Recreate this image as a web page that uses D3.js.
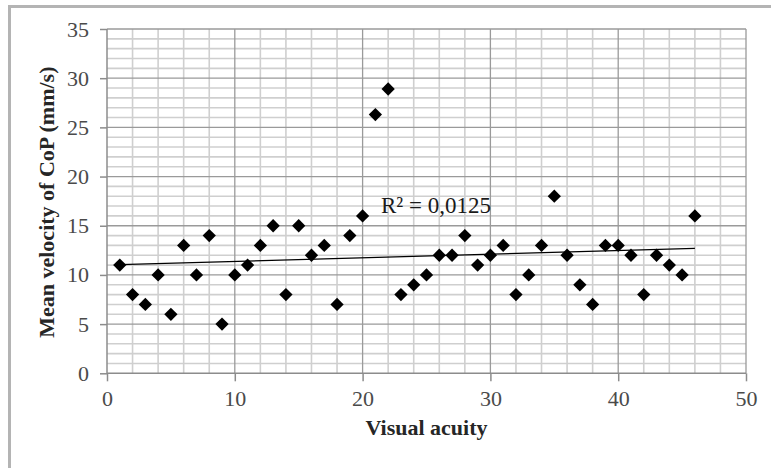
<!DOCTYPE html>
<html>
<head>
<meta charset="utf-8">
<script src="https://cdn.jsdelivr.net/npm/d3@7"></script>
<style>
  html, body { margin: 0; padding: 0; background: #fff; }
  svg { display: block; }
</style>
</head>
<body>
<svg id="chart" width="771" height="468"></svg>
<script>
// ---- data ----
const visualAcuity = d3.range(1, 47);
const meanVelocity = [11, 8, 7, 10, 6, 13, 10, 14, 5, 10,
                      11, 13, 15, 8, 15, 12, 13, 7, 14, 16,
                      26.3, 28.9, 8, 9, 10, 12, 12, 14, 11, 12,
                      13, 8, 10, 13, 18, 12, 9, 7, 13, 13,
                      12, 8, 12, 11, 10, 16];
const xTicks = [0, 10, 20, 30, 40, 50];
const yTicks = [0, 5, 10, 15, 20, 25, 30, 35];
const xTitle = "Visual acuity";
const yTitle = "Mean velocity of CoP (mm/s)";
const r2Label = "R² = 0,0125";

const points = visualAcuity.map((x, i) => ({ x: x, y: meanVelocity[i] }));

const svg = d3.select("#chart");
const L = 107, R = 746, T = 29, B = 373.3;
const x = d3.scaleLinear().domain([0, 50]).range([L, R]);
const y = d3.scaleLinear().domain([0, 35]).range([B, T]);
const serif = "'Liberation Serif', 'Times New Roman', serif";

// outer chart border
svg.append("rect").attr("x", 9.5).attr("y", 6.5).attr("width", 780).attr("height", 480)
  .attr("fill", "none").attr("stroke", "#b4b4b4").attr("stroke-width", 3);

const g = svg.append("g");

// minor grid
g.append("g").selectAll("line").data(d3.range(2, 50, 2).filter(v => v % 10 !== 0))
  .join("line")
  .attr("x1", d => x(d)).attr("x2", d => x(d)).attr("y1", T).attr("y2", B)
  .attr("stroke", "#cfcfcf").attr("stroke-width", 1.6);
g.append("g").selectAll("line").data(d3.range(1, 35, 1).filter(v => v % 5 !== 0))
  .join("line")
  .attr("x1", L).attr("x2", R).attr("y1", d => y(d)).attr("y2", d => y(d))
  .attr("stroke", "#cfcfcf").attr("stroke-width", 1.6);
// major grid
g.append("g").selectAll("line").data(xTicks.filter(v => v > 0))
  .join("line")
  .attr("x1", d => x(d)).attr("x2", d => x(d)).attr("y1", T).attr("y2", B)
  .attr("stroke", "#9a9a9a").attr("stroke-width", 1.3);
g.append("g").selectAll("line").data(yTicks.filter(v => v > 0))
  .join("line")
  .attr("x1", L).attr("x2", R).attr("y1", d => y(d)).attr("y2", d => y(d))
  .attr("stroke", "#9a9a9a").attr("stroke-width", 1.3);

// axes
const xAxis = d3.axisBottom(x).tickValues(xTicks).tickSize(8).tickPadding(9);
const yAxis = d3.axisLeft(y).tickValues(yTicks).tickSize(7).tickPadding(11);
const gx = svg.append("g").attr("transform", `translate(0,${B})`).call(xAxis);
const gy = svg.append("g").attr("transform", `translate(${L},0)`).call(yAxis);
[gx, gy].forEach(a => {
  a.select(".domain").attr("stroke", "#8c8c8c").attr("stroke-width", 1.5);
  a.selectAll(".tick line").attr("stroke", "#8c8c8c").attr("stroke-width", 1.5);
  a.selectAll(".tick text").attr("font-family", serif).attr("font-size", 22).attr("fill", "#4a4a4a");
});
gx.select(".domain").remove();
gy.select(".domain").remove();
svg.append("line").attr("x1", L).attr("x2", R).attr("y1", B).attr("y2", B).attr("stroke", "#8c8c8c").attr("stroke-width", 1.5);
svg.append("line").attr("x1", L).attr("x2", L).attr("y1", T).attr("y2", B).attr("stroke", "#8c8c8c").attr("stroke-width", 1.5);

// trendline (least squares)
const mx = d3.mean(points, d => d.x), my = d3.mean(points, d => d.y);
const slope = d3.sum(points, d => (d.x - mx) * (d.y - my)) / d3.sum(points, d => (d.x - mx) ** 2);
const icpt = my - slope * mx;
const xe = d3.extent(points, d => d.x);
svg.append("line")
  .attr("x1", x(xe[0])).attr("y1", y(icpt + slope * xe[0]))
  .attr("x2", x(xe[1])).attr("y2", y(icpt + slope * xe[1]))
  .attr("stroke", "#000").attr("stroke-width", 1.2);

// markers
const sym = d3.symbol(d3.symbolSquare, 88);
svg.append("g").selectAll("path").data(points).join("path")
  .attr("d", sym)
  .attr("transform", d => `translate(${x(d.x)},${y(d.y)}) rotate(45)`)
  .attr("fill", "#000");

// R² label
svg.append("text").attr("x", 381).attr("y", 213)
  .attr("font-family", serif).attr("font-size", 23).attr("fill", "#1a1a1a")
  .text(r2Label);

// axis titles
svg.append("text").attr("x", (L + R) / 2).attr("y", 435).attr("text-anchor", "middle")
  .attr("font-family", serif).attr("font-size", 22).attr("font-weight", "bold").attr("fill", "#262626")
  .text(xTitle);
svg.append("text").attr("transform", `translate(54,${(T + B) / 2 + 1}) rotate(-90)`).attr("text-anchor", "middle")
  .attr("font-family", serif).attr("font-size", 22).attr("font-weight", "bold").attr("fill", "#262626")
  .text(yTitle);
</script>
</body>
</html>
